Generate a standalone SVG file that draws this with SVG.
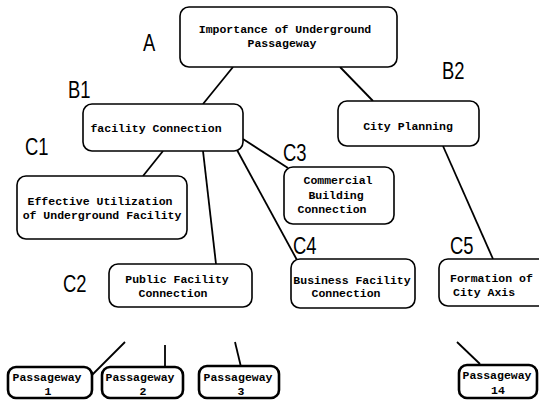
<svg xmlns="http://www.w3.org/2000/svg" width="539" height="400" viewBox="0 0 539 400">
<style>
.box{fill:#fff;stroke:#000;stroke-width:1.6}
.pbox{fill:#fff;stroke:#000;stroke-width:2.6}
.t{font-family:"Liberation Mono","DejaVu Sans Mono",monospace;font-weight:bold;font-size:11.5px;fill:#000;text-anchor:middle}
.tl{font-family:"Liberation Mono","DejaVu Sans Mono",monospace;font-weight:bold;font-size:11.5px;fill:#000}
.lab{font-family:"Liberation Sans",Arial,sans-serif;font-size:23px;fill:#000}
.c{stroke:#000;stroke-width:1.8;fill:none}
</style>
<rect width="539" height="400" fill="#fff"/>
<g id="connectors">
<line class="c" x1="233" y1="67" x2="203" y2="104"/>
<line class="c" x1="340" y1="67" x2="373" y2="101"/>
<line class="c" x1="163" y1="151" x2="143" y2="176"/>
<line class="c" x1="203" y1="151" x2="216" y2="264"/>
<line class="c" x1="237" y1="150" x2="297" y2="260"/>
<line class="c" x1="243" y1="139" x2="288" y2="168"/>
<line class="c" x1="443" y1="146" x2="493" y2="259"/>
<line class="c" x1="125" y1="342" x2="92" y2="375"/>
<line class="c" x1="165" y1="345" x2="165" y2="368"/>
<line class="c" x1="235" y1="342" x2="241" y2="367"/>
<line class="c" x1="457" y1="342" x2="480" y2="364"/>
</g>
<g id="labels">
<text class="lab" transform="translate(143,51) scale(0.8,1)">A</text>
<text class="lab" transform="translate(68,98) scale(0.8,1)">B1</text>
<text class="lab" transform="translate(442,79) scale(0.8,1)">B2</text>
<text class="lab" transform="translate(25,155) scale(0.8,1)">C1</text>
<text class="lab" transform="translate(63,292) scale(0.8,1)">C2</text>
<text class="lab" transform="translate(283,161) scale(0.8,1)">C3</text>
<text class="lab" transform="translate(293,254) scale(0.8,1)">C4</text>
<text class="lab" transform="translate(450,254) scale(0.8,1)">C5</text>
</g>
<g id="nodeA">
<rect class="box" x="180" y="7" width="217" height="60" rx="9"/>
<text class="t" x="285" y="33">Importance of Underground</text>
<text class="t" x="282" y="47">Passageway</text>
</g>
<g id="nodeB1">
<rect class="box" x="83" y="104" width="160" height="47" rx="9"/>
<text class="t" x="156" y="132">facility Connection</text>
</g>
<g id="nodeB2">
<rect class="box" x="338" y="101" width="141" height="45" rx="9"/>
<text class="t" x="408" y="130">City Planning</text>
</g>
<g id="nodeC1">
<rect class="box" x="17" y="176" width="170" height="63" rx="9"/>
<text class="t" x="100" y="205">Effective Utilization</text>
<text class="t" x="102" y="219">of Underground Facility</text>
</g>
<g id="nodeC2">
<rect class="box" x="109" y="264" width="143" height="43" rx="9"/>
<text class="t" x="177" y="283">Public Facility</text>
<text class="t" x="173" y="297">Connection</text>
</g>
<g id="nodeC3">
<rect class="box" x="284" y="167" width="110" height="57" rx="9"/>
<text class="t" x="338" y="184">Commercial</text>
<text class="t" x="336" y="199">Building</text>
<text class="t" x="332" y="213">Connection</text>
</g>
<g id="nodeC4">
<rect class="box" x="291" y="259" width="124" height="49" rx="9"/>
<text class="t" x="352" y="284">Business Facility</text>
<text class="t" x="346" y="297">Connection</text>
</g>
<g id="nodeC5">
<rect class="box" x="439" y="259" width="110" height="47" rx="9"/>
<text class="tl" x="450" y="282">Formation of</text>
<text class="tl" x="453" y="296">City Axis</text>
</g>
<g id="nodeP1">
<rect class="pbox" x="8" y="367" width="84" height="31" rx="8"/>
<text class="t" x="47" y="381">Passageway</text>
<text class="t" x="48" y="395">1</text>
</g>
<g id="nodeP2">
<rect class="pbox" x="102" y="367" width="81" height="31" rx="8"/>
<text class="t" x="140" y="381">Passageway</text>
<text class="t" x="143" y="395">2</text>
</g>
<g id="nodeP3">
<rect class="pbox" x="199" y="366" width="80" height="32" rx="8"/>
<text class="t" x="238" y="381">Passageway</text>
<text class="t" x="241" y="395">3</text>
</g>
<g id="nodeP14">
<rect class="pbox" x="459" y="365" width="78" height="33" rx="8"/>
<text class="t" x="497" y="379">Passageway</text>
<text class="t" x="498" y="394">14</text>
</g>
</svg>
